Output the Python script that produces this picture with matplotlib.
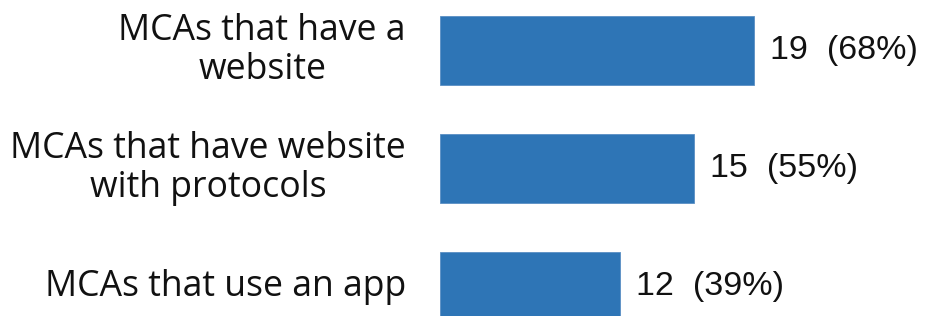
import matplotlib
matplotlib.use("Agg")
import matplotlib.pyplot as plt

labels = ["MCAs that have a\nwebsite",
          "MCAs that have website\nwith protocols",
          "MCAs that use an app"]
counts = [19, 15, 12]
pcts = [68, 55, 39]

BLUE = "#2E75B6"

fig = plt.figure(figsize=(9.34, 3.16), dpi=100)
ax = fig.add_axes([440 / 934, 0, (934 - 440) / 934, 1])

ys = list(range(len(labels)))
ax.barh(ys, pcts, height=0.58, color=BLUE, edgecolor="#5a8fc4", linewidth=0.6)

ax.set_xlim(0, 494 / 4.615)
ax.set_ylim(2.25, -0.428)
ax.axis("off")

for y, lab, c, p in zip(ys, labels, counts, pcts):
    ax.text(-34 / 4.615, y, lab, ha="right", va="center", multialignment="center",
            fontsize=25.7, family="Open Sans", linespacing=1.12, color="#111111")
    ax.text(p + 16 / 4.615, y, f"{c}  ({p}%)", ha="left", va="center",
            fontsize=24.5, family="Liberation Sans", color="#111111")

fig.savefig("out.png", dpi=100)
